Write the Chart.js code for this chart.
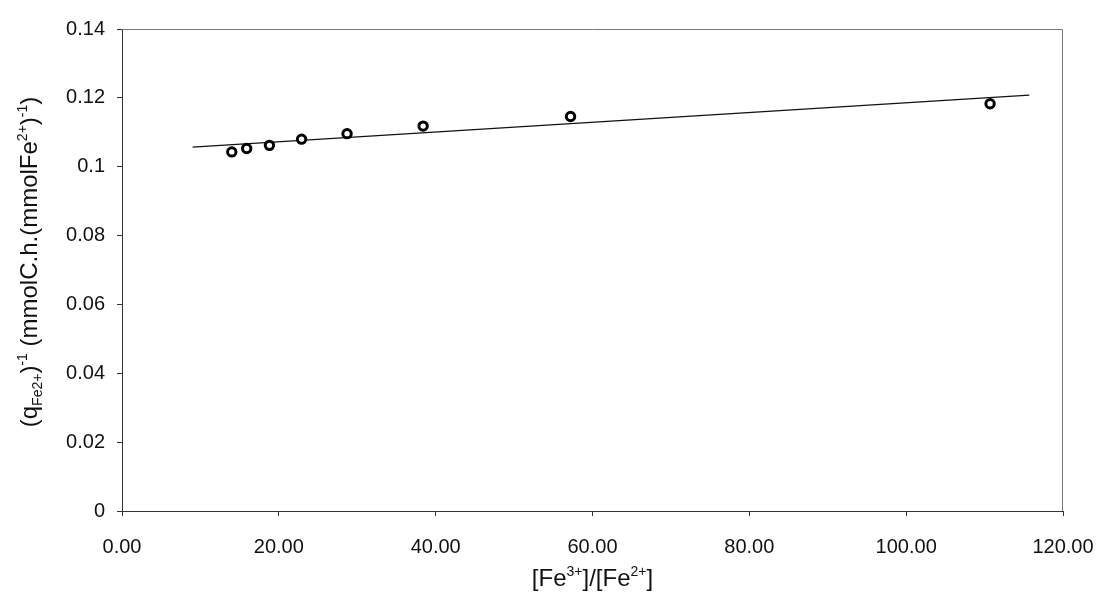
<!DOCTYPE html>
<html>
<head>
<meta charset="utf-8">
<script src="https://cdn.jsdelivr.net/npm/chart.js@4/dist/chart.umd.min.js"></script>
<style>
  html, body { margin: 0; background: #fff; }
</style>
</head>
<body>
<canvas id="chart" width="1099" height="594"></canvas>
<script>
// measured points: [Fe3+]/[Fe2+] vs inverse specific rate
const ratio = [14.0, 15.9, 18.8, 22.9, 28.7, 38.4, 57.2, 110.7];
const invRate = [0.1043, 0.1053, 0.1062, 0.1080, 0.1096, 0.1118, 0.1146, 0.1183];

// linear trend line end points
const trendRatio = [9.0, 115.7];
const trendInvRate = [0.1057, 0.1208];

const xTicks = [0, 20, 40, 60, 80, 100, 120];
const yTicks = [0, 0.02, 0.04, 0.06, 0.08, 0.1, 0.12, 0.14];

const FONT = "'Liberation Sans', Arial, sans-serif";
const tickFont = { family: FONT, size: 20 };

// axis titles with super/subscripts
const xTitle = [
  { t: "[Fe" }, { t: "3+", sup: true }, { t: "]/[Fe" }, { t: "2+", sup: true }, { t: "]" }
];
const yTitle = [
  { t: "(q" }, { t: "Fe2+", sub: true }, { t: ")" }, { t: "-1", sup: true },
  { t: " (mmolC.h.(mmolFe" }, { t: "2+", sup: true }, { t: ")" }, { t: "-1", sup: true }, { t: ")" }
];

function drawRich(ctx, parts, size) {
  const fontFor = p => ((p.sup || p.sub) ? Math.round(size * 0.6) : size) + "px " + FONT;
  let total = 0;
  parts.forEach(p => { ctx.font = fontFor(p); total += ctx.measureText(p.t).width; });
  let x = -total / 2;
  ctx.textBaseline = "alphabetic";
  ctx.textAlign = "left";
  parts.forEach(p => {
    ctx.font = fontFor(p);
    let dy = 0;
    if (p.sup) dy = -size * 0.4;
    if (p.sub) dy = size * 0.2;
    ctx.fillText(p.t, x, dy);
    x += ctx.measureText(p.t).width;
  });
}

const titlesPlugin = {
  id: "titles",
  afterDraw(chart) {
    const ctx = chart.ctx;
    const a = chart.chartArea;
    ctx.save();
    ctx.fillStyle = "#111";
    // frame top/right
    ctx.strokeStyle = "#777";
    ctx.lineWidth = 1;
    ctx.beginPath();
    ctx.moveTo(a.left, a.top + 0.5);
    ctx.lineTo(a.right - 0.5, a.top + 0.5);
    ctx.lineTo(a.right - 0.5, a.bottom);
    ctx.stroke();
    // x title
    ctx.save();
    ctx.translate((a.left + a.right) / 2, 586);
    drawRich(ctx, xTitle, 24);
    ctx.restore();
    // y title
    ctx.save();
    ctx.translate(37, (a.top + a.bottom) / 2 - 8);
    ctx.rotate(-Math.PI / 2);
    drawRich(ctx, yTitle, 24);
    ctx.restore();
    ctx.restore();
  }
};

new Chart(document.getElementById("chart"), {
  type: "scatter",
  data: {
    datasets: [
      {
        label: "measured",
        data: ratio.map((r, i) => ({ x: r, y: invRate[i] })),
        pointStyle: "circle",
        pointRadius: 4.2,
        pointBorderWidth: 3,
        pointBackgroundColor: "#fff",
        pointBorderColor: "#000",
        showLine: false,
        order: 0
      },
      {
        label: "trend",
        data: trendRatio.map((r, i) => ({ x: r, y: trendInvRate[i] })),
        showLine: true,
        borderColor: "#111",
        borderWidth: 1.3,
        pointRadius: 0,
        order: 1
      }
    ]
  },
  options: {
    responsive: false,
    animation: false,
    devicePixelRatio: 1,
    layout: { padding: { top: 29, right: 36, left: 0, bottom: 0 } },
    plugins: { legend: { display: false }, tooltip: { enabled: false } },
    scales: {
      x: {
        type: "linear",
        min: 0,
        max: 120,
        afterBuildTicks: s => { s.ticks = xTicks.map(v => ({ value: v })); },
        afterFit: s => { s.height = 83; s.paddingLeft = 0; s.paddingRight = 0; },
        ticks: {
          callback: v => v.toFixed(2),
          font: tickFont,
          color: "#111",
          padding: 19,
          maxRotation: 0,
          autoSkip: false
        },
        grid: { drawOnChartArea: false, drawTicks: true, tickLength: 5, color: "#333" },
        border: { color: "#333", width: 1 }
      },
      y: {
        type: "linear",
        min: 0,
        max: 0.14,
        afterBuildTicks: s => { s.ticks = yTicks.map(v => ({ value: v })); },
        afterFit: s => { s.width = 122; s.paddingTop = 0; s.paddingBottom = 0; },
        ticks: {
          callback: v => String(+v.toFixed(2)),
          font: tickFont,
          color: "#111",
          padding: 12,
          autoSkip: false
        },
        grid: { drawOnChartArea: false, drawTicks: true, tickLength: 5, color: "#333" },
        border: { color: "#333", width: 1 }
      }
    }
  },
  plugins: [titlesPlugin]
});
</script>
</body>
</html>
